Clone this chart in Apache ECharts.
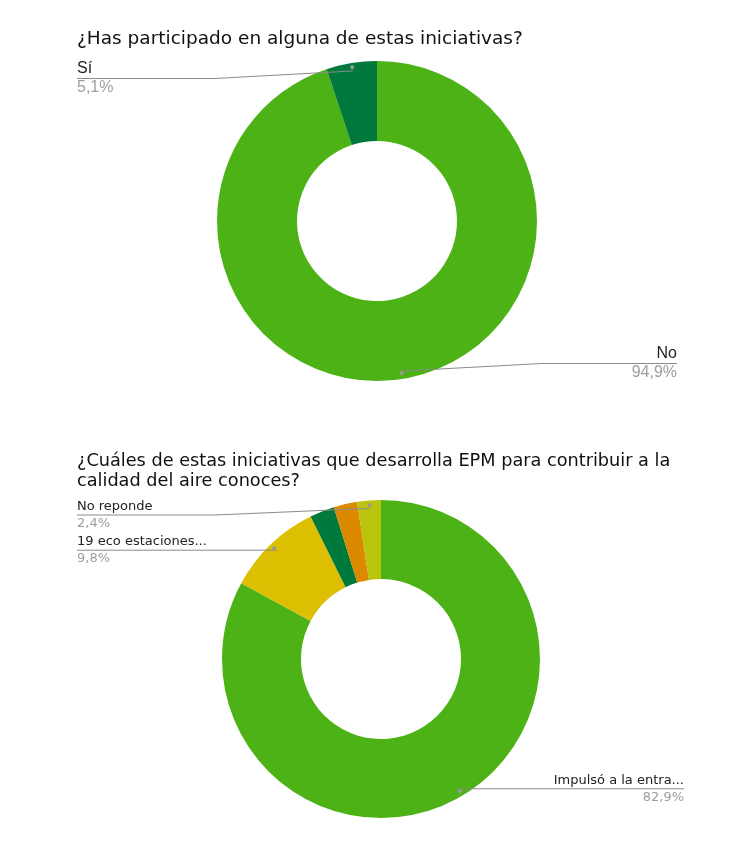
<!DOCTYPE html>
<html>
<head>
<meta charset="utf-8">
<script src="https://cdn.jsdelivr.net/npm/echarts@6/dist/echarts.min.js"></script>
<style>
html,body{margin:0;padding:0;background:#fff;}
#chart{width:744px;height:858px;}
</style>
</head>
<body>
<div id="chart"></div>
<script>
// ---- Data ----
var title1 = '¿Has participado en alguna de estas iniciativas?';
var cats1 = ['No', 'Sí'];
var vals1 = [94.9, 5.1];
var colors1 = ['#4db215', '#007a3c'];
var labeled1 = [true, true];

var title2 = '¿Cuáles de estas iniciativas que desarrolla EPM para contribuir a la\ncalidad del aire conoces?';
var cats2 = ['Impulsó a la entra...', '19 eco estaciones...', 'Otra iniciativa 1', 'Otra iniciativa 2', 'No reponde'];
var vals2 = [82.9, 9.8, 2.5, 2.4, 2.4];
var colors2 = ['#4db215', '#dcbf00', '#007a3c', '#db8a00', '#bbc40c'];
var labeled2 = [true, true, false, false, true];

// ---- Layout ----
var pies = [
  { cx: 377, cy: 221, r: 160, rightEdge: 67, nameFont: 'Liberation Sans', nameSize: 16, lh: 19 },
  { cx: 381, cy: 659, r: 159, rightEdge: 60, nameFont: 'DejaVu Sans', nameSize: 13, lh: 17 }
];
var NONE = 'rgba(0,0,0,0)';

function pct(v) { return v.toFixed(1).replace('.', ',') + '%'; }

function makeLayout(p) {
  return function (params) {
    var pts = params.labelLinePoints;
    var lr = params.labelRect;
    if (!pts || !lr) return {};
    var p0 = pts[0];
    var dot = [p.cx + 0.95 * (p0[0] - p.cx), p.cy + 0.95 * (p0[1] - p.cy)];
    var h = lr.height;
    var lineY = Math.max(p.cy - p.r + h / 2, Math.min(p.cy + p.r - h / 2, dot[1]));
    var dy = lineY - (lr.y + h / 2);
    var isLeft = lr.x + lr.width / 2 < p.cx;
    var endX, bendX;
    if (isLeft) {
      endX = lr.x;
      bendX = Math.min(lr.x + 138, dot[0]);
    } else {
      endX = lr.x + lr.width;
      bendX = Math.max(endX - 135, dot[0]);
    }
    return {
      dy: dy,
      labelLinePoints: [dot, [bendX, lineY], [endX, lineY]]
    };
  };
}

function buildSeries(p, cats, vals, colors, labeled) {
  var base = {
    type: 'pie',
    center: [p.cx, p.cy],
    startAngle: 90,
    clockwise: true,
    silent: true,
    emphasis: { disabled: true }
  };
  // visible rings
  var ring = Object.assign({}, base, {
    z: 2,
    radius: [80, p.r],
    label: { show: false },
    labelLine: { show: false },
    data: cats.map(function (c, i) {
      return { name: c, value: vals[i], itemStyle: { color: colors[i] } };
    })
  });
  // transparent overlay carrying outside labels and leader lines (drawn on top)
  var labels = Object.assign({}, base, {
    z: 5,
    radius: [80, p.r],
    avoidLabelOverlap: true,
    itemStyle: { color: NONE },
    label: {
      show: true,
      position: 'outer',
      alignTo: 'edge',
      edgeDistance: 77,
      formatter: function (q) { return '{n|' + q.name + '}\n{v|' + pct(q.value) + '}'; },
      rich: {
        n: { fontFamily: p.nameFont, fontSize: p.nameSize, color: '#222', lineHeight: p.lh },
        v: { fontFamily: p.nameFont, fontSize: p.nameSize, color: '#9e9e9e', lineHeight: p.lh }
      }
    },
    labelLine: { show: true, length: 8, length2: 8, maxSurfaceAngle: 180, lineStyle: { color: '#8a8a8a', width: 1 } },
    labelLayout: makeLayout(p),
    data: cats.map(function (c, i) {
      var d = { name: c, value: vals[i], itemStyle: { color: NONE } };
      if (!labeled[i]) { d.label = { show: false }; d.labelLine = { show: false }; }
      else if (i === 0) { d.label = { edgeDistance: p.rightEdge }; }
      return d;
    })
  });
  // thin transparent band whose inside labels are the leader-line dots
  var dots = Object.assign({}, base, {
    z: 6,
    radius: [p.r - 16, p.r],
    itemStyle: { color: NONE },
    label: { show: true, position: 'inside', formatter: '●', fontSize: 9, color: '#9a9a9a' },
    labelLine: { show: false },
    data: cats.map(function (c, i) {
      var d = { name: c, value: vals[i], itemStyle: { color: NONE } };
      if (!labeled[i]) d.label = { show: false };
      return d;
    })
  });
  return [ring, labels, dots];
}

var chart = echarts.init(document.getElementById('chart'), null, { renderer: 'canvas' });
chart.setOption({
  backgroundColor: '#ffffff',
  animation: false,
  title: [
    { text: title1, left: 72, top: 25,
      textStyle: { fontFamily: 'DejaVu Sans', fontSize: 18.5, fontWeight: 'normal', color: '#111' } },
    { text: title2, left: 72, top: 446,
      textStyle: { fontFamily: 'DejaVu Sans', fontSize: 17.7, fontWeight: 'normal', color: '#111', lineHeight: 20 } }
  ],
  series: buildSeries(pies[0], cats1, vals1, colors1, labeled1)
    .concat(buildSeries(pies[1], cats2, vals2, colors2, labeled2))
});
</script>
</body>
</html>
